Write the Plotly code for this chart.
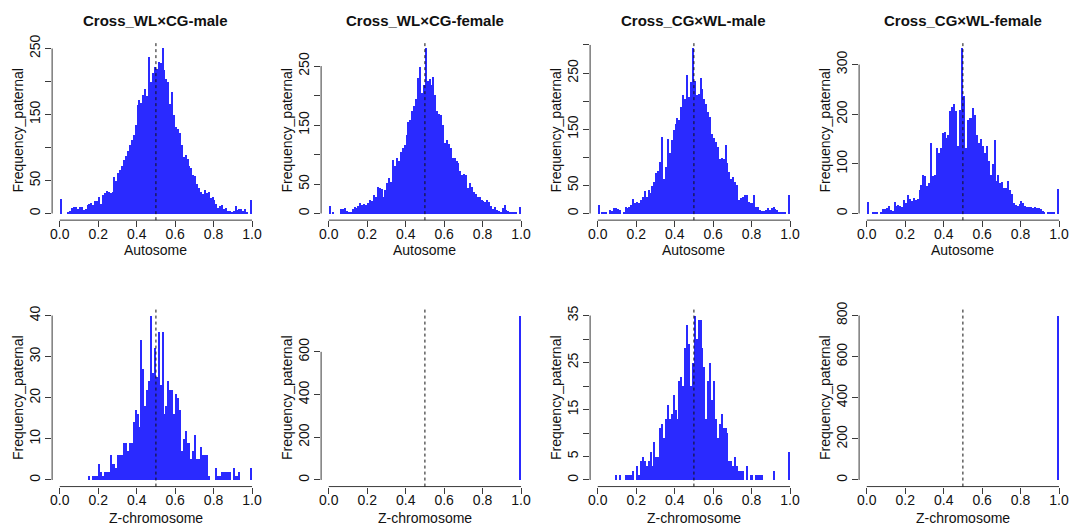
import plotly.graph_objects as go

W, H = 1074, 529

# ---------------- data (counts per 0.01-wide bin, 0.00-0.01 ... 0.99-1.00) ----------------
bin_width = 0.01
bin_centers = [round((i + 0.5) * bin_width, 4) for i in range(100)]

auto_wlcg_male = [23, 0, 0, 0, 3, 4, 9, 10, 10, 8,
                  11, 10, 6, 7, 13, 15, 17, 14, 19, 20,
                  25, 15, 28, 32, 35, 34, 31, 33, 56, 50,
                  62, 66, 72, 82, 88, 95, 105, 112, 120, 135,
                  165, 172, 168, 180, 190, 178, 238, 200, 213, 222,
                  220, 230, 228, 252, 218, 205, 200, 167, 185, 150,
                  132, 128, 122, 105, 87, 90, 84, 72, 69, 59,
                  58, 46, 40, 34, 30, 36, 32, 34, 24, 26,
                  21, 15, 9, 12, 13, 8, 9, 5, 4, 3,
                  5, 12, 6, 7, 8, 4, 8, 2, 0, 21]

auto_wlcg_female = [13, 0, 2, 0, 0, 0, 9, 9, 10, 5,
                    3, 4, 8, 12, 10, 14, 19, 16, 17, 16,
                    18, 23, 22, 32, 28, 45, 44, 43, 28, 40,
                    52, 61, 55, 92, 81, 95, 90, 105, 112, 117,
                    134, 156, 160, 174, 183, 195, 231, 249, 205, 219,
                    282, 225, 228, 218, 233, 202, 174, 170, 168, 151,
                    120, 126, 118, 111, 95, 95, 90, 86, 72, 66,
                    68, 66, 44, 52, 46, 38, 33, 29, 29, 24,
                    22, 21, 23, 21, 14, 9, 12, 7, 5, 4,
                    10, 16, 7, 5, 4, 4, 3, 4, 0, 12]

auto_cgwl_male = [16, 0, 2, 2, 2, 0, 7, 5, 10, 11,
                  9, 7, 0, 2, 13, 10, 12, 16, 26, 20,
                  22, 19, 25, 30, 40, 31, 43, 37, 50, 57,
                  72, 76, 92, 137, 63, 84, 134, 108, 131, 149,
                  160, 171, 167, 190, 211, 205, 248, 208, 235, 296,
                  237, 211, 214, 242, 223, 205, 195, 181, 173, 143,
                  135, 128, 119, 98, 100, 98, 122, 90, 75, 63,
                  66, 57, 51, 25, 28, 30, 34, 34, 22, 20,
                  19, 34, 12, 13, 7, 5, 6, 7, 10, 7,
                  10, 13, 8, 7, 2, 2, 2, 2, 0, 34]

auto_cgwl_female = [25, 0, 0, 2, 2, 2, 0, 4, 9, 10,
                    11, 15, 8, 5, 25, 17, 18, 15, 13, 28,
                    22, 38, 30, 26, 32, 28, 30, 48, 59, 79,
                    76, 56, 62, 143, 76, 79, 132, 123, 133, 163,
                    165, 153, 160, 207, 215, 221, 207, 137, 210, 335,
                    238, 133, 190, 194, 194, 214, 200, 160, 143, 150,
                    137, 123, 137, 106, 79, 100, 148, 66, 79, 62,
                    65, 52, 52, 66, 48, 40, 22, 18, 15, 20,
                    27, 22, 15, 14, 13, 13, 12, 13, 12, 12,
                    9, 5, 3, 0, 2, 2, 2, 2, 0, 50]

z_wlcg_male = [0, 0, 0, 0, 0, 0, 0, 0, 0, 0,
               0, 0, 0, 0, 0, 1, 0, 1, 1, 1,
               4, 2, 1, 2, 2, 2, 6, 4, 4, 3,
               6, 6, 6, 9, 9, 7, 9, 9, 14, 17,
               16, 13, 34, 27, 18, 22, 24, 40, 26, 32,
               25, 36, 23, 36, 16, 18, 24, 22, 22, 16,
               21, 20, 17, 7, 10, 12, 9, 9, 5, 7,
               11, 5, 5, 8, 6, 6, 6, 1, 0, 0,
               0, 3, 1, 1, 2, 2, 2, 2, 2, 0,
               3, 1, 1, 2, 0, 0, 0, 0, 0, 3]

z_wlcg_female = [0] * 99 + [770]

z_cgwl_male = [0, 0, 0, 0, 0, 0, 0, 0, 0, 1,
               0, 1, 0, 0, 1, 1, 1, 1, 2, 0,
               3, 1, 4, 5, 4, 3, 4, 6, 3, 8,
               5, 5, 11, 12, 9, 13, 16, 13, 14, 18,
               15, 13, 21, 22, 20, 28, 33, 29, 20, 25,
               35, 30, 34, 34, 28, 24, 13, 21, 25, 17,
               21, 13, 9, 12, 14, 11, 11, 10, 4, 4,
               3, 5, 3, 2, 2, 2, 0, 3, 0, 1,
               1, 0, 1, 1, 1, 1, 0, 0, 0, 0,
               0, 2, 0, 0, 0, 0, 0, 0, 0, 6]

z_cgwl_female = [0] * 99 + [800]

titles = ["Cross_WL×CG-male", "Cross_WL×CG-female", "Cross_CG×WL-male", "Cross_CG×WL-female"]
x_titles = ["Autosome", "Z-chromosome"]
y_title = "Frequency_paternal"
mean_line = 0.5

x_tickvals = [0.0, 0.2, 0.4, 0.6, 0.8, 1.0]
x_ticktext = ["0.0", "0.2", "0.4", "0.6", "0.8", "1.0"]

# y ticks per panel (R drops overlapping labels -> blank text)
y_ticks = [
    ([0, 50, 100, 150, 200, 250], ["0", "50", "", "150", "", "250"]),
    ([0, 50, 100, 150, 200, 250], ["0", "50", "", "150", "", "250"]),
    ([0, 50, 100, 150, 200, 250, 300], ["0", "50", "", "150", "", "250", ""]),
    ([0, 100, 200, 300], ["0", "100", "200", "300"]),
    ([0, 10, 20, 30, 40], ["0", "10", "20", "30", "40"]),
    ([0, 200, 400, 600], ["0", "200", "400", "600"]),
    ([0, 5, 10, 15, 20, 25, 30, 35], ["0", "5", "", "15", "", "25", "", "35"]),
    ([0, 200, 400, 600, 800], ["0", "200", "400", "600", "800"]),
]

panels = [auto_wlcg_male, auto_wlcg_female, auto_cgwl_male, auto_cgwl_female,
          z_wlcg_male, z_wlcg_female, z_cgwl_male, z_cgwl_female]

# ---------------- layout geometry (pixels) ----------------
col_left = [50.3, 320.3, 590.3, 860.3]
col_w = 208.4
row_top = [34, 306]
row_bot = [216, 486]
xlab_off = [30, 32]

FONT = "Liberation Sans, Arial, sans-serif"
AXC = "#3a3a3a"
BAR = "#2a2aff"

fig = go.Figure()
layout = dict(width=W, height=H, margin=dict(l=0, r=0, t=0, b=0),
              paper_bgcolor="white", plot_bgcolor="white", showlegend=False,
              font=dict(family=FONT, size=14, color="#111"), bargap=0.0)
shapes = []
annotations = []

for k, counts in enumerate(panels):
    r, c = divmod(k, 4)
    n = k + 1
    xa = "x" if n == 1 else f"x{n}"
    ya = "y" if n == 1 else f"y{n}"
    fig.add_trace(go.Bar(x=bin_centers, y=counts, width=bin_width * 0.55,
                         marker=dict(color=BAR, line=dict(width=0)),
                         xaxis=xa, yaxis=ya, hoverinfo="x+y"))
    M = max(counts)
    x0p, x1p = col_left[c], col_left[c] + col_w
    y0p, y1p = row_top[r], row_bot[r]
    yv, yt = y_ticks[k]
    layout["xaxis" if n == 1 else f"xaxis{n}"] = dict(
        domain=[x0p / W, x1p / W], range=[-0.04, 1.04], anchor=ya,
        tickvals=x_tickvals, ticktext=x_ticktext, ticks="outside", ticklen=6,
        tickcolor=AXC, tickwidth=1, showgrid=False, zeroline=False, showline=False,
        ticklabelstandoff=-5,
        tickfont=dict(size=14, color="#111"), fixedrange=True)
    layout["yaxis" if n == 1 else f"yaxis{n}"] = dict(
        domain=[1 - y1p / H, 1 - y0p / H], range=[-0.04 * M, 1.04 * M], anchor=xa,
        tickvals=yv, ticktext=yt, tickangle=-90, ticks="outside", ticklen=6,
        tickcolor=AXC, tickwidth=1, showgrid=False, zeroline=False, showline=False,
        tickfont=dict(size=14, color="#111"), fixedrange=True)
    # axis lines spanning tick range (R style)
    shapes.append(dict(type="line", xref=xa, yref=f"{ya} domain",
                       x0=x_tickvals[0], x1=x_tickvals[-1], y0=0, y1=0,
                       line=dict(color=AXC, width=1)))
    shapes.append(dict(type="line", xref=f"{xa} domain", yref=ya,
                       x0=0, x1=0, y0=yv[0], y1=yv[-1],
                       line=dict(color=AXC, width=1)))
    # dashed reference line
    shapes.append(dict(type="line", xref=xa, yref=f"{ya} domain",
                       x0=mean_line, x1=mean_line, y0=0, y1=1,
                       line=dict(color="#111111", width=1, dash="3px,3px")))
    cx = (x0p + x1p) / 2
    if r == 0:
        annotations.append(dict(text=f"<b>{titles[c]}</b>", xref="paper", yref="paper",
                                x=cx / W, y=1 - 14 / H, xanchor="center", yanchor="middle",
                                showarrow=False, font=dict(size=15, color="#111")))
    annotations.append(dict(text=x_titles[r], xref="paper", yref="paper",
                            x=cx / W, y=1 - (y1p + xlab_off[r]) / H, xanchor="center", yanchor="middle",
                            showarrow=False, font=dict(size=14, color="#111")))
    annotations.append(dict(text=y_title, xref="paper", yref="paper",
                            x=(x0p - 34) / W, y=1 - ((y0p + y1p) / 2) / H,
                            xanchor="center", yanchor="middle", textangle=-90,
                            showarrow=False, font=dict(size=14, color="#111")))

layout["shapes"] = shapes
layout["annotations"] = annotations
fig.update_layout(**layout)
fig.write_html("out.html", config={"displayModeBar": False},
               post_script="document.body.style.margin='0';document.body.style.overflow='hidden';")
